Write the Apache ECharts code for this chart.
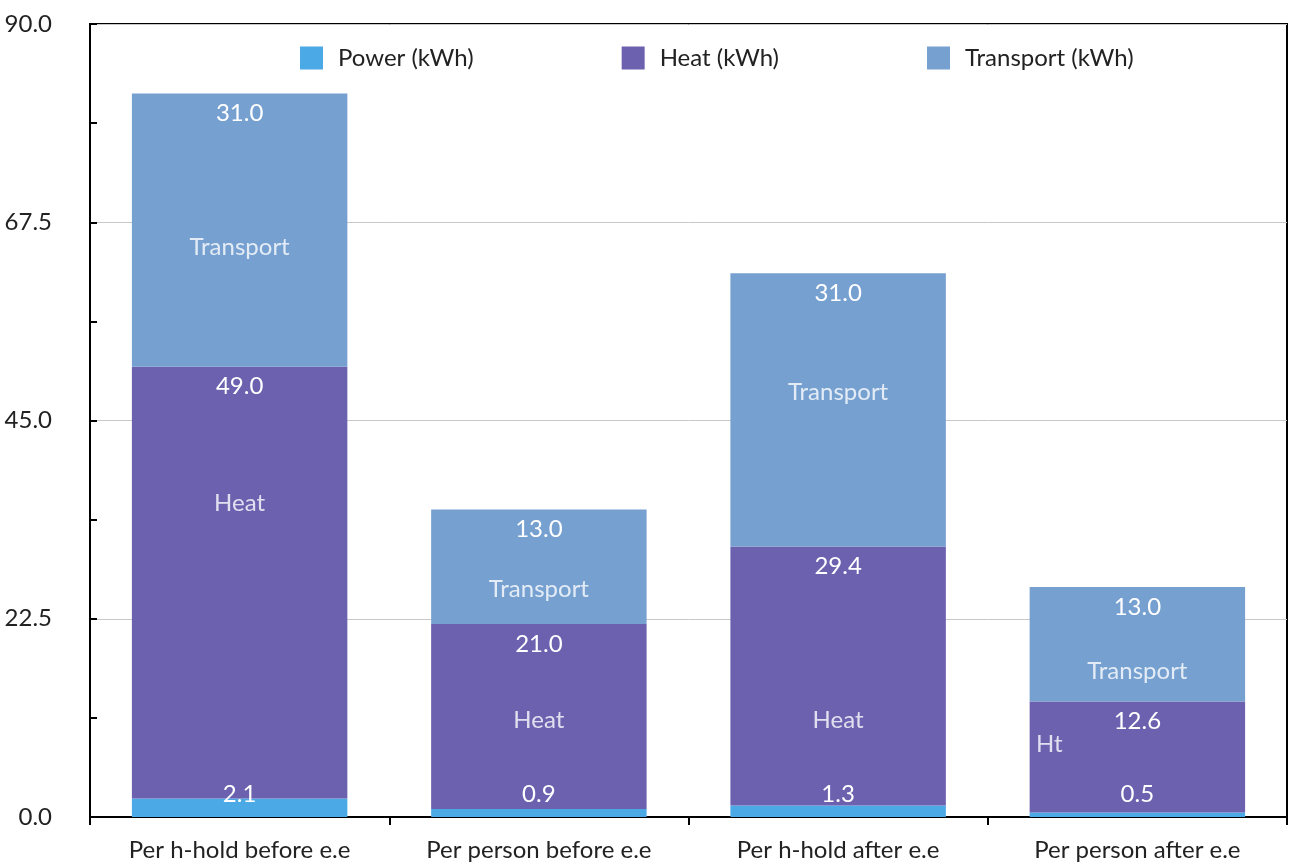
<!DOCTYPE html>
<html><head><meta charset="utf-8">
<script src="https://cdn.jsdelivr.net/npm/echarts@6/dist/echarts.min.js"></script>
<style>html,body{margin:0;padding:0;background:#fff}#c{width:1291px;height:866px}</style>
</head><body><div id="c"></div>
<script>
const categories = ['Per h-hold before e.e', 'Per person before e.e', 'Per h-hold after e.e', 'Per person after e.e'];
const seriesNames = ['Power (kWh)', 'Heat (kWh)', 'Transport (kWh)'];
const power = [2.1, 0.9, 1.3, 0.5];
const heat = [49.0, 21.0, 29.4, 12.6];
const transport = [31.0, 13.0, 31.0, 13.0];
const yTicks = [0, 22.5, 45, 67.5, 90];
// in-bar annotation texts: [categoryIndex, yValue, text]
const annotations = [
  [0, 64.7, 'Transport'], [0, 35.6, 'Heat'],
  [1, 25.9, 'Transport'], [1, 11.0, 'Heat'],
  [2, 48.2, 'Transport'], [2, 11.0, 'Heat'],
  [3, 16.5, 'Transport'], [3, 8.2, 'Ht']
];

const FONT = 'Lato';
const FS = 24;
const colors = ['#4BA9E6', '#6B61AF', '#76A0D0'];
const labelStyle = { show: true, color: '#fff', fontSize: FS, fontFamily: FONT, formatter: p => p.value.toFixed(1) };

const chart = echarts.init(document.getElementById('c'));
chart.setOption({
  animation: false,
  textStyle: { fontFamily: FONT },
  color: colors,
  legend: {
    data: seriesNames, left: 295, top: 41, itemWidth: 23, itemHeight: 23, itemGap: 148,
    textStyle: { fontSize: FS, color: '#222', fontFamily: FONT, padding: [0, 0, 0, 10] }, icon: 'rect'
  },
  grid: { left: 90, right: 4, top: 24, bottom: 49, show: true, borderColor: '#000', borderWidth: 2, backgroundColor: 'transparent' },
  xAxis: {
    type: 'category', data: categories,
    axisLine: { lineStyle: { color: '#000', width: 2 } },
    axisTick: { show: true, length: 8, lineStyle: { color: '#000', width: 2 } },
    axisLabel: { fontSize: FS, color: '#222', margin: 21, fontFamily: FONT }
  },
  yAxis: {
    type: 'value', min: yTicks[0], max: yTicks[yTicks.length - 1], interval: 22.5,
    axisLine: { show: true, lineStyle: { color: '#000', width: 2 } },
    axisTick: { show: true, inside: true, length: 7, lineStyle: { color: '#000', width: 2 } },
    minorTick: { show: true, splitNumber: 2, length: 7, lineStyle: { color: '#000', width: 2 } },
    splitLine: { show: true, lineStyle: { color: '#c8c8c8', width: 1 } },
    axisLabel: { fontSize: FS, color: '#222', margin: 38, formatter: v => v.toFixed(1), fontFamily: FONT }
  },
  series: [
    { name: seriesNames[0], type: 'bar', stack: 's', data: power, barCategoryGap: '28%',
      label: Object.assign({}, labelStyle, { position: 'insideBottom', distance: 11 }) },
    { name: seriesNames[1], type: 'bar', stack: 's', data: heat, barCategoryGap: '28%',
      label: Object.assign({}, labelStyle, { position: 'insideTop', distance: 8 }) },
    { name: seriesNames[2], type: 'bar', stack: 's', data: transport, barCategoryGap: '28%',
      label: Object.assign({}, labelStyle, { position: 'insideTop', distance: 8 }) },
    { name: 'annot', type: 'scatter', symbolSize: 0, silent: true, z: 5,
      data: annotations.map(a => ({ value: [a[0], a[1]], name: a[2],
        label: a[2] === 'Ht' ? { offset: [-88, 0] } : {} })),
      label: { show: true, position: 'inside', color: '#fff', fontSize: FS, fontFamily: FONT, formatter: p => p.name } }
  ]
});
</script></body></html>
